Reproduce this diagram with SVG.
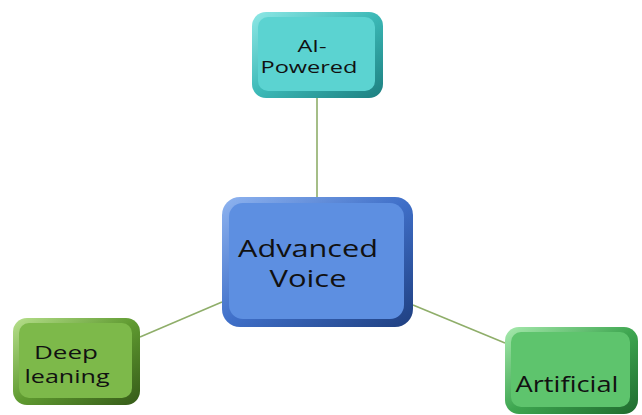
<svg xmlns="http://www.w3.org/2000/svg" width="642" height="415" viewBox="0 0 642 415">
<style>
.lbl{font-family:"Open Sans","Liberation Sans",sans-serif;font-weight:500;fill:#111;text-anchor:middle}
.conn{stroke:#8fae6a;stroke-width:1.6;fill:none}
</style>
<defs>
<linearGradient id="gc" x1="0" y1="0" x2="1" y2="1"><stop offset="0" stop-color="#8ee8e6"/><stop offset="0.5" stop-color="#3bb8b6"/><stop offset="1" stop-color="#1d7f80"/></linearGradient>
<linearGradient id="gb" x1="0" y1="0" x2="1" y2="1"><stop offset="0" stop-color="#8fb4f0"/><stop offset="0.5" stop-color="#3f6fc8"/><stop offset="1" stop-color="#1f3f80"/></linearGradient>
<linearGradient id="gg" x1="0" y1="0" x2="1" y2="1"><stop offset="0" stop-color="#b7e08c"/><stop offset="0.5" stop-color="#5f9a30"/><stop offset="1" stop-color="#355a18"/></linearGradient>
<linearGradient id="ga" x1="0" y1="0" x2="1" y2="1"><stop offset="0" stop-color="#a7eaae"/><stop offset="0.5" stop-color="#3ea650"/><stop offset="1" stop-color="#1f6a2e"/></linearGradient>
</defs>
<g id="connectors">
<line class="conn" x1="317" y1="98" x2="317" y2="197"/>
<line class="conn" x1="222" y1="302" x2="140" y2="337"/>
<line class="conn" x1="413" y1="305" x2="505" y2="343"/>
</g>
<g id="ai-powered">
<rect x="252" y="12" width="131" height="86" rx="14" fill="url(#gc)"/>
<rect x="258" y="17" width="117" height="74" rx="10" fill="#5bd3d1"/>
<text class="lbl" x="312" y="52" font-size="17" textLength="29" lengthAdjust="spacingAndGlyphs">AI-</text>
<text class="lbl" x="309" y="73" font-size="17" textLength="97" lengthAdjust="spacingAndGlyphs">Powered</text>
</g>
<g id="advanced-voice">
<rect x="222" y="197" width="191" height="130" rx="18" fill="url(#gb)"/>
<rect x="229" y="203" width="175" height="116" rx="14" fill="#5d8fe1"/>
<text class="lbl" x="308" y="257" font-size="24" textLength="140" lengthAdjust="spacingAndGlyphs">Advanced</text>
<text class="lbl" x="308" y="287" font-size="24" textLength="77" lengthAdjust="spacingAndGlyphs">Voice</text>
</g>
<g id="deep-leaning">
<rect x="13" y="318" width="127" height="87" rx="14" fill="url(#gg)"/>
<rect x="19" y="323" width="113" height="75" rx="10" fill="#7db94a"/>
<text class="lbl" x="66" y="359" font-size="19" textLength="64" lengthAdjust="spacingAndGlyphs">Deep</text>
<text class="lbl" x="67" y="383" font-size="19" textLength="85" lengthAdjust="spacingAndGlyphs">leaning</text>
</g>
<g id="artificial">
<rect x="505" y="327" width="133" height="87" rx="14" fill="url(#ga)"/>
<rect x="511" y="332" width="119" height="75" rx="10" fill="#5ec46d"/>
<text class="lbl" x="567" y="392" font-size="21" textLength="103" lengthAdjust="spacingAndGlyphs">Artificial</text>
</g>
</svg>
